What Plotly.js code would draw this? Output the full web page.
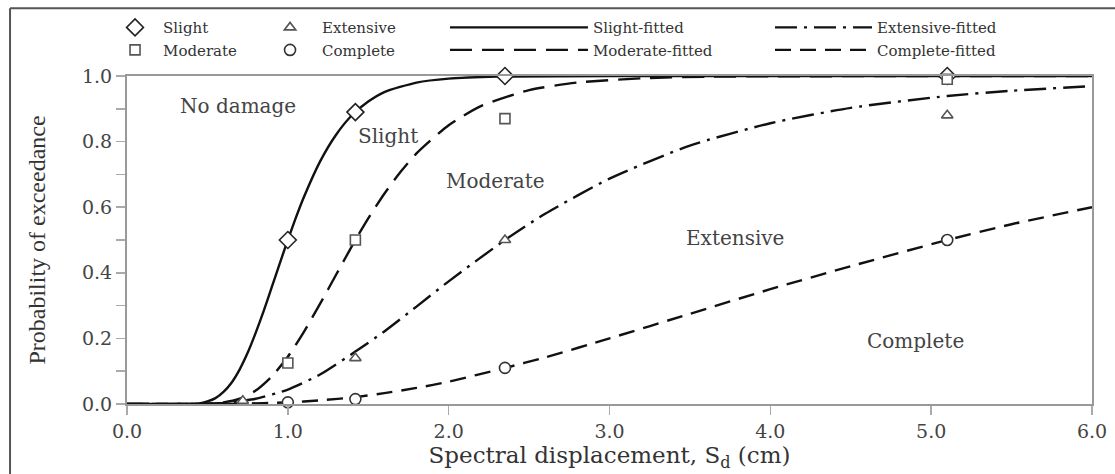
<!DOCTYPE html>
<html>
<head>
<meta charset="utf-8">
<script src="https://cdn.plot.ly/plotly-3.0.1.min.js"></script>
<style>
html,body{margin:0;padding:0;background:#fff;}
#chart{width:1115px;height:474px;}
</style>
</head>
<body>
<div id="chart"></div>
<script>
// ---- observed damage probabilities (markers) ----
const slightX = [1.0, 1.42, 2.35, 5.1];
const slightY = [0.5, 0.89, 1.0, 1.0];
const moderateX = [1.0, 1.42, 2.35, 5.1];
const moderateY = [0.125, 0.5, 0.87, 0.99];
const extensiveX = [0.72, 1.42, 2.35, 5.1];
const extensiveY = [0.01, 0.14, 0.5, 0.88];
const completeX = [1.0, 1.42, 2.35, 5.1];
const completeY = [0.005, 0.015, 0.11, 0.5];

// ---- fitted fragility curves ----
const slightFitX = [0, 0.3, 0.45, 0.5, 0.55, 0.6, 0.65, 0.7, 0.75, 0.8, 0.85, 0.9, 0.95, 1.0, 1.05, 1.1, 1.2, 1.3, 1.4, 1.5, 1.6, 1.8, 2.0, 2.3, 3.0, 4.0, 5.0, 6.0];
const slightFitY = [0, 0, 0.002, 0.008, 0.018, 0.037, 0.065, 0.105, 0.156, 0.217, 0.284, 0.356, 0.429, 0.5, 0.568, 0.631, 0.739, 0.821, 0.881, 0.922, 0.951, 0.98, 0.992, 0.998, 1.0, 1.0, 1.0, 1.0];
const moderateFitX = [0, 0.4, 0.5, 0.6, 0.7, 0.8, 0.9, 1.0, 1.1, 1.2, 1.3, 1.42, 1.5, 1.6, 1.7, 1.8, 2.0, 2.2, 2.5, 2.8, 3.2, 3.6, 4.0, 5.0, 6.0];
const moderateFitY = [0, 0, 0.001, 0.005, 0.016, 0.041, 0.084, 0.144, 0.22, 0.305, 0.394, 0.5, 0.566, 0.641, 0.707, 0.764, 0.85, 0.908, 0.957, 0.98, 0.993, 0.998, 0.999, 1.0, 1.0];
const extensiveFitX = [0, 0.4, 0.6, 0.8, 1.0, 1.2, 1.42, 1.6, 1.8, 2.0, 2.35, 2.6, 3.0, 3.5, 4.0, 4.5, 5.1, 5.5, 6.0];
const extensiveFitY = [0, 0, 0.003, 0.016, 0.044, 0.09, 0.16, 0.221, 0.297, 0.374, 0.5, 0.58, 0.687, 0.788, 0.856, 0.903, 0.939, 0.955, 0.969];
const completeFitX = [0, 0.5, 0.7, 1.0, 1.2, 1.42, 1.6, 1.8, 2.0, 2.35, 2.6, 3.0, 3.5, 4.0, 4.5, 5.1, 5.5, 6.0];
const completeFitY = [0, 0, 0.001, 0.005, 0.011, 0.021, 0.033, 0.049, 0.068, 0.11, 0.142, 0.2, 0.275, 0.35, 0.42, 0.5, 0.548, 0.6];

// ---- region labels ----
const regionLabels = ["No damage", "Slight", "Moderate", "Extensive", "Complete"];
const regionX = [0.69, 1.62, 2.29, 3.78, 4.90];
const regionY = [0.909, 0.818, 0.681, 0.505, 0.191];

const xTickVals = [0, 1, 2, 3, 4, 5, 6];
const yTickVals = [0, 0.2, 0.4, 0.6, 0.8, 1.0];

const SERIF = "DejaVu Serif";
const INK = "#111";

function lineTrace(x, y, name, dash, legend) {
  return {x: x, y: y, name: name, type: "scatter", mode: "lines", legend: legend,
    cliponaxis: false, line: {color: INK, width: 2.4, dash: dash, shape: "spline", smoothing: 0.6}};
}
function markTrace(x, y, name, symbol, size, color, legend) {
  return {x: x, y: y, name: name, type: "scatter", mode: "markers", legend: legend,
    cliponaxis: false,
    marker: {symbol: symbol, size: size, color: "#fff", line: {color: color, width: 1.6}}};
}

const data = [
  lineTrace(slightFitX, slightFitY, "Slight-fitted", "solid", "legend3"),
  lineTrace(moderateFitX, moderateFitY, "Moderate-fitted", "22px,10px", "legend3"),
  lineTrace(extensiveFitX, extensiveFitY, "Extensive-fitted", "22px,7px,3px,7px", "legend4"),
  lineTrace(completeFitX, completeFitY, "Complete-fitted", "16px,9px", "legend4"),
  markTrace(slightX, slightY, "Slight", "diamond", 13, "#222", "legend"),
  markTrace(moderateX, moderateY, "Moderate", "square", 10, "#555", "legend"),
  markTrace(extensiveX, extensiveY, "Extensive", "triangle-up", 10, "#555", "legend2"),
  markTrace(completeX, completeY, "Complete", "circle", 11, "#333", "legend2")
];

const legFont = {family: SERIF, size: 15, color: "#333"};
function leg(x, w) {
  return {x: x, y: 1.194, xanchor: "left", yanchor: "top", orientation: "v",
    bgcolor: "rgba(0,0,0,0)", borderwidth: 0, font: legFont, itemwidth: w,
    tracegroupgap: 0, traceorder: "normal"};
}

const layout = {
  width: 1115, height: 474,
  margin: {l: 127, r: 23, t: 75, b: 70},
  paper_bgcolor: "#fff", plot_bgcolor: "#fff",
  showlegend: true,
  legend: leg(-0.0207, 46),
  legend2: leg(0.1358, 54),
  legend3: leg(0.3295, 138),
  legend4: leg(0.6663, 97),
  xaxis: {
    range: [0, 6], tickvals: xTickVals, tickformat: ".1f",
    showgrid: false, zeroline: false,
    showline: true, linecolor: "#999", linewidth: 2, mirror: true,
    ticks: "outside", ticklen: 9, tickwidth: 1.5, tickcolor: "#aaa",
    tickfont: {family: SERIF, size: 19, color: "#444"},
    title: {text: "Spectral displacement, S<sub>d</sub> (cm)", standoff: 4,
      font: {family: SERIF, size: 23, color: "#333"}}
  },
  yaxis: {
    range: [0, 1], tickvals: yTickVals, tickformat: ".1f",
    showgrid: false, zeroline: false,
    showline: true, linecolor: "#999", linewidth: 2, mirror: true,
    ticks: "outside", ticklen: 9, tickwidth: 1.5, tickcolor: "#aaa",
    minor: {dtick: 0.1, ticks: "outside", ticklen: 9, tickwidth: 1.5, tickcolor: "#aaa"},
    tickfont: {family: SERIF, size: 19, color: "#444"},
    title: {text: "Probability of exceedance", standoff: 30,
      font: {family: "Liberation Serif", size: 24, color: "#333"}}
  },
  annotations: regionLabels.map((t, i) => ({
    x: regionX[i], y: regionY[i], xref: "x", yref: "y", text: t, showarrow: false,
    xanchor: "center", yanchor: "middle",
    font: {family: SERIF, size: 20, color: "#444"}
  })),
  shapes: [
    {type: "line", xref: "paper", yref: "paper", x0: -0.1212, x1: 1.05, y0: 1.2067, y1: 1.2067,
      line: {color: "#555", width: 2}},
    {type: "line", xref: "paper", yref: "paper", x0: -0.1212, x1: -0.1212, y0: 1.2067, y1: -0.25,
      line: {color: "#555", width: 2}}
  ]
};

Plotly.newPlot("chart", data, layout, {displayModeBar: false, staticPlot: true});
</script>
</body>
</html>
